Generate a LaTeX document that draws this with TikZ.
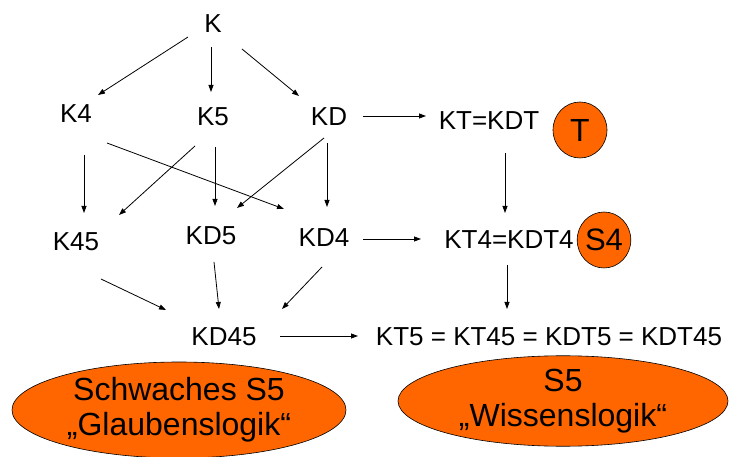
\documentclass[tikz,border=0pt]{standalone}
\usepackage{fontspec}
\setmainfont{Liberation Sans}
\usetikzlibrary{arrows.meta,shapes.geometric}
\definecolor{orng}{HTML}{FF6600}
\begin{document}
\begin{tikzpicture}[x=1pt,y=-1pt,
  lbl/.style={font=\fontsize{26}{30}\selectfont, inner sep=0pt},
  conn/.style={-{Triangle[length=7pt,width=5pt]}, line width=0.8pt},
  blob/.style={ellipse, draw=black, line width=0.6pt, fill=orng, inner sep=0pt, align=center}]
\useasboundingbox (0,0) rectangle (729,457);
\clip (0,0) rectangle (729,457);

% ellipses
\node[blob, minimum width=334pt, minimum height=96pt, font=\fontsize{32}{35}\selectfont] (E1) at (179,410) {Schwaches S5\\„Glaubenslogik“};
\node[blob, minimum width=330pt, minimum height=88pt, font=\fontsize{32}{35}\selectfont] (E2) at (563,401) {S5\\„Wissenslogik“};
\node[blob, minimum width=54pt, minimum height=56pt, font=\fontsize{32}{35}\selectfont] (T) at (580,130) {T};
\node[blob, minimum width=52pt, minimum height=56pt, font=\fontsize{31}{35}\selectfont] (S4) at (604,240) {S4};

% labels
\node[lbl] (K) at (213,24) {K};
\node[lbl] (K4) at (76,114) {K4};
\node[lbl] (K5) at (213,117) {K5};
\node[lbl] (KD) at (329,117) {KD};
\node[lbl] (KT) at (489,121) {KT=KDT};
\node[lbl] (K45) at (76,242) {K45};
\node[lbl] (KD5) at (211,236) {KD5};
\node[lbl] (KD4) at (324,238) {KD4};
\node[lbl] (KT4) at (509,240) {KT4=KDT4};
\node[lbl] (KD45) at (224,337) {KD45};
\node[lbl] (KT5) at (549,337) {KT5 = KT45 = KDT5 = KDT45};

% connectors
\draw[conn] ([shift={(-25,13)}]K.center) -- ([shift={(22,-19)}]K4.center);
\draw[conn] ([shift={(-2,23)}]K.center) -- ([shift={(-2,-25)}]K5.center);
\draw[conn] ([shift={(29,25)}]K.center) -- ([shift={(-30,-21)}]KD.center);
\draw[conn] ([shift={(34,-1)}]KD.center) -- ([shift={(-63,-5)}]KT.center);
\draw[conn] ([shift={(8,41)}]K4.center) -- ([shift={(8,-29)}]K45.center);
\draw[conn] ([shift={(31,29)}]K4.center) -- ([shift={(-40,-29)}]KD4.center);
\draw[conn] ([shift={(-18,29)}]K5.center) -- ([shift={(43,-27)}]K45.center);
\draw[conn] ([shift={(2,30)}]K5.center) -- ([shift={(4,-30)}]KD5.center);
\draw[conn] ([shift={(-5,21)}]KD.center) -- ([shift={(26,-28)}]KD5.center);
\draw[conn] ([shift={(-2,26)}]KD.center) -- ([shift={(3,-31)}]KD4.center);
\draw[conn] ([shift={(16,32)}]KT.center) -- ([shift={(-4,-27)}]KT4.center);
\draw[conn] ([shift={(39,1)}]KD4.center) -- ([shift={(-88,-1)}]KT4.center);
\draw[conn] ([shift={(25,37)}]K45.center) -- ([shift={(-58,-27)}]KD45.center);
\draw[conn] ([shift={(3,26)}]KD5.center) -- ([shift={(-5,-28)}]KD45.center);
\draw[conn] ([shift={(-2,29)}]KD4.center) -- ([shift={(58,-28)}]KD45.center);
\draw[conn] ([shift={(-2,25)}]KT4.center) -- ([shift={(-42,-28)}]KT5.center);
\draw[conn] ([shift={(56,-1)}]KD45.center) -- ([shift={(-191,-1)}]KT5.center);
\end{tikzpicture}
\end{document}
